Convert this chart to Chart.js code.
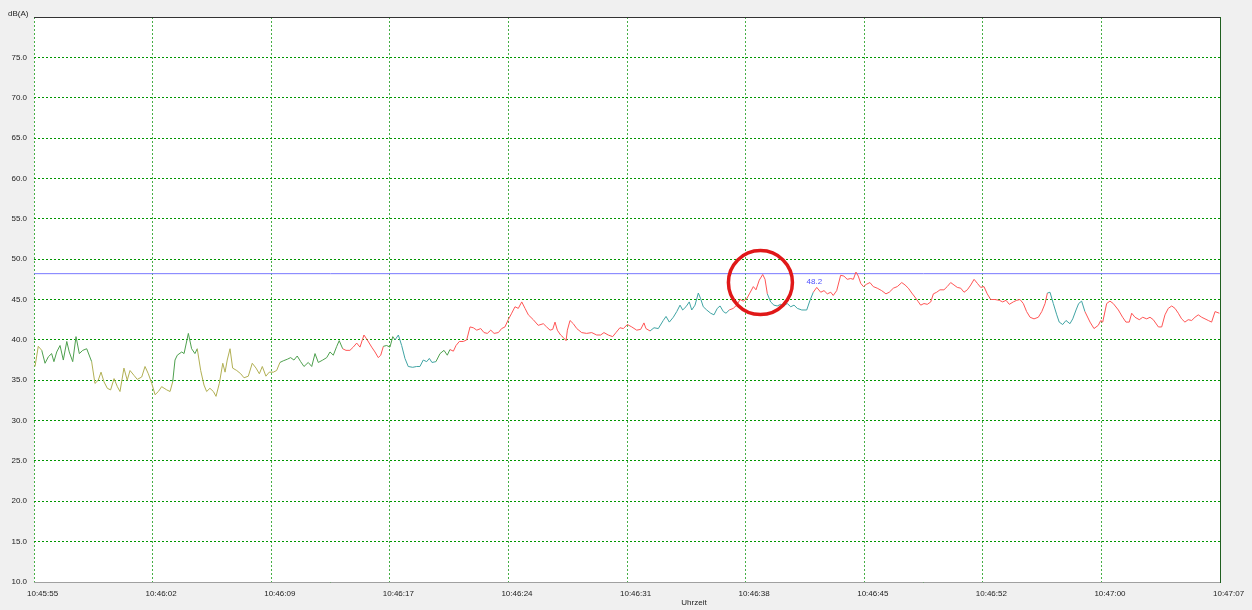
<!DOCTYPE html>
<html>
<head>
<meta charset="utf-8">
<script src="https://cdn.jsdelivr.net/npm/chart.js@4/dist/chart.umd.min.js"></script>
<style>
  html, body { margin: 0; padding: 0; background: #f0f0f0; }
  #wrap { width: 1252px; height: 610px; }
</style>
</head>
<body>
<div id="wrap"><canvas id="levelChart" width="1252" height="610"></canvas></div>
<script>
// seconds since 10:45:55
const times = [
  0.06, 0.26, 0.47, 0.67, 0.87, 1.07, 1.21, 1.38, 1.58, 1.78, 1.99, 2.14, 2.35, 2.55, 2.75, 2.96, 3.20,
  3.50, 3.70, 3.90, 4.07, 4.25, 4.45, 4.65, 4.86, 5.06, 5.22, 5.46, 5.66, 5.83, 6.07, 6.27, 6.54, 6.74,
  6.94, 7.15, 7.35, 7.55, 7.75, 8.06, 8.26, 8.42, 8.56, 8.70, 8.97, 9.11, 9.37, 9.57, 9.77, 9.91, 10.12,
  10.32, 10.48, 10.68, 10.89, 11.05, 11.25, 11.46, 11.60, 11.73, 11.90, 12.06, 12.31, 12.55, 12.75, 13.01,
  13.25, 13.48, 13.68, 13.86, 14.08, 14.28, 14.53, 14.73, 14.93, 15.13, 15.38, 15.58, 15.78, 15.98, 16.19,
  16.39, 16.65, 16.86, 17.06, 17.26, 17.53, 17.77, 17.97, 18.17, 18.38, 18.53, 18.74, 18.94, 19.18, 19.38,
  19.59, 19.79, 20.03, 20.23, 20.50, 20.70, 20.90, 21.05, 21.21, 21.41, 21.61, 21.78, 21.92, 22.12, 22.32,
  22.52, 22.72, 22.99, 23.23, 23.43, 23.63, 23.84, 24.00, 24.16, 24.40, 24.65, 24.89, 25.09, 25.25, 25.46,
  25.62, 25.82, 26.06, 26.27, 26.47, 26.67, 26.88, 27.12, 27.32, 27.52, 27.73, 27.93, 28.19, 28.39, 28.59,
  28.79, 29.00, 29.20, 29.40, 29.61, 29.81, 30.01, 30.31, 30.61, 30.92, 31.12, 31.33, 31.49, 31.63, 31.77,
  31.97, 32.13, 32.30, 32.38, 32.54, 32.74, 32.95, 33.25, 33.55, 33.86, 34.16, 34.40, 34.60, 34.86, 35.13,
  35.33, 35.57, 35.78, 36.02, 36.29, 36.59, 36.83, 37.03, 37.15, 37.40, 37.64, 37.90, 38.20, 38.37, 38.57,
  38.81, 39.02, 39.22, 39.38, 39.58, 39.78, 39.93, 40.13, 40.33, 40.47, 40.63, 40.84, 41.08, 41.28, 41.48,
  41.65, 41.85, 42.01, 42.21, 42.45, 42.66, 42.86, 43.06, 43.27, 43.43, 43.67, 43.83, 44.03, 44.24, 44.38,
  44.52, 44.72, 44.92, 45.12, 45.33, 45.49, 45.73, 45.94, 46.14, 46.34, 46.61, 46.91, 47.11, 47.31, 47.52,
  47.76, 47.96, 48.16, 48.37, 48.52, 48.73, 48.97, 49.17, 49.37, 49.58, 49.74, 49.90, 50.04, 50.19, 50.35,
  50.55, 50.75, 50.95, 51.19, 51.46, 51.72, 51.92, 52.17, 52.41, 52.68, 52.88, 53.08, 53.29, 53.48, 53.69,
  53.83, 54.03, 54.23, 54.44, 54.60, 54.80, 55.00, 55.24, 55.44, 55.65, 55.85, 56.05, 56.26, 56.46, 56.66,
  56.87, 57.07, 57.27, 57.47, 57.67, 57.87, 58.08, 58.34, 58.60, 58.81, 59.01, 59.21, 59.45, 59.66, 59.86,
  60.06, 60.26, 60.47, 60.71, 60.97, 61.18, 61.38, 61.52, 61.68, 61.88, 62.09, 62.24, 62.45, 62.65, 62.89,
  63.06, 63.26, 63.42, 63.60, 63.80, 64.11, 64.35, 64.61, 64.76, 64.88, 65.12, 65.32, 65.52, 65.83, 66.09,
  66.29, 66.49, 66.64, 66.84, 67.10, 67.31, 67.55, 67.75, 67.95, 68.26, 68.46, 68.66, 68.86, 69.07, 69.27,
  69.47, 69.67, 69.87, 70.07, 70.28, 70.48, 70.68, 70.89, 71.09, 71.29, 71.49, 71.70, 71.96
];

// dB(A)
const levels = [
  36.7, 39.2, 38.7, 37.1, 37.9, 38.3, 37.3, 38.5, 39.3, 37.5, 39.8, 38.5, 37.3, 40.4, 38.3, 38.7, 38.9,
  37.3, 34.6, 35.0, 36.0, 34.8, 34.0, 33.8, 35.2, 34.2, 33.6, 36.5, 35.0, 36.2, 35.6, 35.1, 35.4, 36.7,
  35.8, 34.6, 33.2, 33.6, 34.2, 33.8, 33.6, 34.8, 37.5, 38.1, 38.5, 38.3, 40.8, 38.9, 38.3, 38.9, 36.2,
  34.4, 33.6, 34.0, 33.6, 33.0, 34.6, 37.1, 36.0, 37.5, 38.9, 36.5, 36.2, 35.8, 35.3, 35.5,
  37.1, 36.5, 35.8, 36.7, 35.5, 36.0, 36.0, 36.2, 37.2, 37.4, 37.6, 37.8, 37.5, 38.0, 37.3,
  36.7, 37.2, 36.7, 38.3, 37.2, 37.5, 37.8, 38.5, 38.1, 39.2, 39.9, 38.9, 38.7, 38.7, 39.1,
  39.6, 39.1, 40.6, 40.0, 39.1, 38.5, 37.8, 38.1, 39.2, 39.3, 39.1, 40.4, 40.0, 40.6, 39.3,
  37.7, 36.7, 36.6, 36.7, 36.7, 37.5, 37.3, 37.7, 37.2, 37.3, 38.3, 38.7, 38.1, 38.8, 38.6,
  39.3, 39.8, 39.8, 40.0, 41.6, 41.5, 41.2, 41.4, 40.9, 40.8, 41.2, 40.8, 40.9, 41.4, 41.6,
  42.5, 43.3, 44.1, 43.9, 44.7, 43.9, 43.1, 42.5, 41.8, 42.0, 41.6, 41.2, 41.3, 42.2, 41.2,
  40.6, 40.3, 39.9, 41.2, 42.4, 42.0, 41.4, 40.9, 40.8, 40.9, 40.6, 40.6, 40.9, 40.6, 40.4,
  40.9, 41.5, 41.4, 41.9, 41.6, 41.2, 41.3, 42.1, 41.4, 41.1, 41.5, 41.4, 42.4, 42.9, 42.2,
  42.8, 43.5, 44.3, 43.7, 44.1, 44.7, 43.7, 44.3, 45.8, 45.1, 44.1, 43.7, 43.3, 43.1, 43.9,
  44.2, 43.5, 43.3, 43.7, 43.9, 44.3, 45.0, 44.8, 45.1, 45.7, 46.6, 46.2, 47.4, 48.1, 47.5,
  45.7, 44.7, 44.3, 44.2, 44.4, 44.2, 44.5, 44.1, 44.3, 43.9, 43.7, 43.7, 44.9, 45.9, 46.5,
  45.9, 46.1, 45.7, 45.9, 45.5, 46.1, 48.0, 47.9, 47.5, 47.6, 47.5, 48.4, 47.9, 47.0, 46.6,
  46.9, 47.1, 46.6, 46.4, 46.1, 45.7, 45.9, 46.4, 46.6, 47.1, 46.8, 46.4, 45.8, 45.3, 44.7,
  44.3, 44.5, 44.4, 44.7, 45.7, 45.9, 46.2, 46.2, 46.6, 47.1, 46.8, 46.5, 46.4, 45.9, 46.2,
  46.8, 47.5, 47.0, 46.5, 46.6, 45.7, 45.0, 45.0, 44.9, 44.7, 44.9, 44.4, 44.7, 44.9, 45.0,
  44.5, 43.5, 42.8, 42.6, 42.8, 43.5, 44.5, 45.8, 45.9, 44.5, 43.1, 42.2, 41.9, 42.4, 42.0,
  42.6, 43.7, 44.5, 44.8, 43.5, 42.2, 41.4, 41.8, 42.4, 42.2, 44.5, 44.8, 44.5, 43.7, 42.8,
  42.2, 42.2, 43.3, 42.8, 42.5, 42.8, 42.6, 42.8, 42.5, 41.6, 41.6, 43.1, 43.9, 44.2, 43.9,
  43.3, 42.6, 42.2, 42.5, 42.4, 42.8, 43.1, 42.8, 42.6, 42.4, 42.2, 43.5, 43.3, 43.5
];

// colour class of the segment that starts at each point
const bands = [
  'o','o','g','g','g','g','g','g','g','g','g','g','g','g','g','g','g',
  'o','o','o','o','o','o','o','o','o','o','o','o','o','o','o','o','o',
  'o','o','o','o','o','o','o','g','g','g','g','g','g','g','g','o','o',
  'o','o','o','o','o','o','o','o','o','o','o','o','o','o','o','o',
  'o','o','o','o','o','o','o','g','g','g','g','g','g','g','g',
  'g','g','g','g','g','g','g','g','g','g','r','r','r','r','r',
  'r','r','r','r','r','r','r','g','g','g','g','t','t','t','t',
  't','t','t','t','t','t','t','t','g','g','g','g','r','r','r',
  'r','r','r','r','r','r','r','r','r','r','r','r','r','r','r',
  'r','r','r','r','r','r','r','r','r','r','r','r','r','r','r',
  'r','r','r','r','r','r','r','r','r','r','r','r','r','r','r',
  'r','r','r','r','r','r','r','r','t','t','t','t','t','t','t',
  't','t','t','t','t','t','t','t','t','t','t','t','t','t','t',
  't','t','r','r','r','r','r','r','r','r','r','r','r','r','t',
  't','t','t','t','t','t','t','t','t','t','t','t','r','r','r',
  'r','r','r','r','r','r','r','r','r','r','r','r','r','r','r',
  'r','r','r','r','r','r','r','r','r','r','r','r','r','r','r',
  'r','r','r','r','r','r','r','r','r','r','r','r','r','r','r',
  'r','r','r','r','r','r','r','r','r','r','r','r','r','r','r',
  'r','r','r','r','r','r','t','t','t','t','t','t','t','t','t',
  't','t','t','r','r','r','r','r','r','r','r','r','r','r','r',
  'r','r','r','r','r','r','r','r','r','r','r','r','r','r','r',
  'r','r','r','r','r','r','r','r','r','r','r','r','r','r'
];

const bandColors = {
  o: 'rgb(178,176,84)',
  g: 'rgb(78,160,78)',
  r: 'rgb(255,86,86)',
  t: 'rgb(64,164,164)'
};

const tickSeconds = [0, 7.2, 14.4, 21.6, 28.8, 36, 43.2, 50.4, 57.6, 64.8, 72];
const tickLabels = ['10:45:55', '10:46:02', '10:46:09', '10:46:17', '10:46:24', '10:46:31',
  '10:46:38', '10:46:45', '10:46:52', '10:47:00', '10:47:07'];

const limitLevel = 48.2;
const limitLabelTime = 46.9;
const peakTime = 44.1;
const peakLevel = 47.1;

const points = times.map((t, i) => ({ x: t, y: levels[i] }));

const decorPlugin = {
  id: 'decor',
  beforeDraw(chart) {
    const { ctx, chartArea: a } = chart;
    ctx.save();
    ctx.fillStyle = '#ffffff';
    ctx.fillRect(a.left, a.top, a.right - a.left, a.bottom - a.top);
    ctx.restore();
  },
  afterDraw(chart) {
    const { ctx, chartArea: a, scales: { x, y } } = chart;
    ctx.save();
    // frame
    ctx.lineWidth = 1;
    ctx.strokeStyle = '#333333';
    ctx.beginPath();
    ctx.moveTo(a.left, a.top + 0.5);
    ctx.lineTo(a.right, a.top + 0.5);
    ctx.stroke();
    ctx.strokeStyle = '#1f5f1f';
    ctx.beginPath();
    ctx.moveTo(a.right + 0.5, a.top);
    ctx.lineTo(a.right + 0.5, a.bottom + 1);
    ctx.stroke();
    ctx.strokeStyle = '#a0a0a0';
    ctx.beginPath();
    ctx.moveTo(a.left, a.bottom + 0.5);
    ctx.lineTo(a.right, a.bottom + 0.5);
    ctx.stroke();

    // texts
    ctx.fillStyle = '#222';
    ctx.font = '8px "Liberation Sans", Arial, sans-serif';
    ctx.textBaseline = 'middle';
    ctx.textAlign = 'left';
    ctx.fillText('dB(A)', 8, 14);
    ctx.textAlign = 'center';
    ctx.fillText('Uhrzeit', 694, 603);

    // limit value label
    ctx.fillStyle = '#5050ff';
    ctx.textAlign = 'left';
    ctx.fillText(limitLevel.toFixed(1), x.getPixelForValue(limitLabelTime), y.getPixelForValue(limitLevel) + 8.5);

    // highlight circle
    ctx.strokeStyle = '#e01818';
    ctx.lineWidth = 3.5;
    ctx.beginPath();
    ctx.arc(x.getPixelForValue(peakTime), y.getPixelForValue(peakLevel), 32, 0, Math.PI * 2);
    ctx.stroke();
    ctx.restore();
  }
};

const ctx = document.getElementById('levelChart').getContext('2d');
new Chart(ctx, {
  type: 'line',
  data: {
    datasets: [{
      label: 'Pegel',
      data: points,
      borderWidth: 1,
      borderColor: bandColors.r,
      pointRadius: 0,
      tension: 0,
      segment: {
        borderColor: c => bandColors[bands[c.p0DataIndex]]
      }
    }, {
      label: 'Grenzwert',
      data: [{ x: 0, y: limitLevel }, { x: 72, y: limitLevel }],
      borderWidth: 1,
      borderColor: 'rgb(120,120,255)',
      pointRadius: 0
    }]
  },
  options: {
    responsive: false,
    animation: false,
    layout: { padding: { left: 0, right: 32, top: 17, bottom: 0 } },
    scales: {
      x: {
        type: 'linear',
        min: 0,
        max: 72,
        afterFit: s => {
          s.height = 28;
          s.paddingLeft = 0;
          s.paddingRight = 0;
        },
        afterBuildTicks: s => { s.ticks = tickSeconds.map(v => ({ value: v })); },
        border: { display: false, dash: [2, 2] },
        grid: {
          color: 'rgb(70,175,70)',
          drawTicks: false
        },
        ticks: {
          autoSkip: false,
          maxRotation: 0,
          align: 'start',
          labelOffset: -7,
          padding: 7,
          color: '#222',
          font: { family: '"Liberation Sans", Arial, sans-serif', size: 8 },
          callback: (v, i) => tickLabels[i]
        }
      },
      y: {
        min: 10,
        max: 80,
        afterFit: s => { s.width = 34; },
        border: { display: false, dash: [2, 2] },
        grid: {
          color: 'rgb(0,150,0)',
          drawTicks: false
        },
        ticks: {
          stepSize: 5,
          padding: 7,
          color: '#222',
          font: { family: '"Liberation Sans", Arial, sans-serif', size: 8 },
          callback: v => (v === 80 ? '' : v.toFixed(1))
        }
      }
    },
    plugins: {
      legend: { display: false },
      tooltip: { enabled: false }
    }
  },
  plugins: [decorPlugin]
});
</script>
</body>
</html>
